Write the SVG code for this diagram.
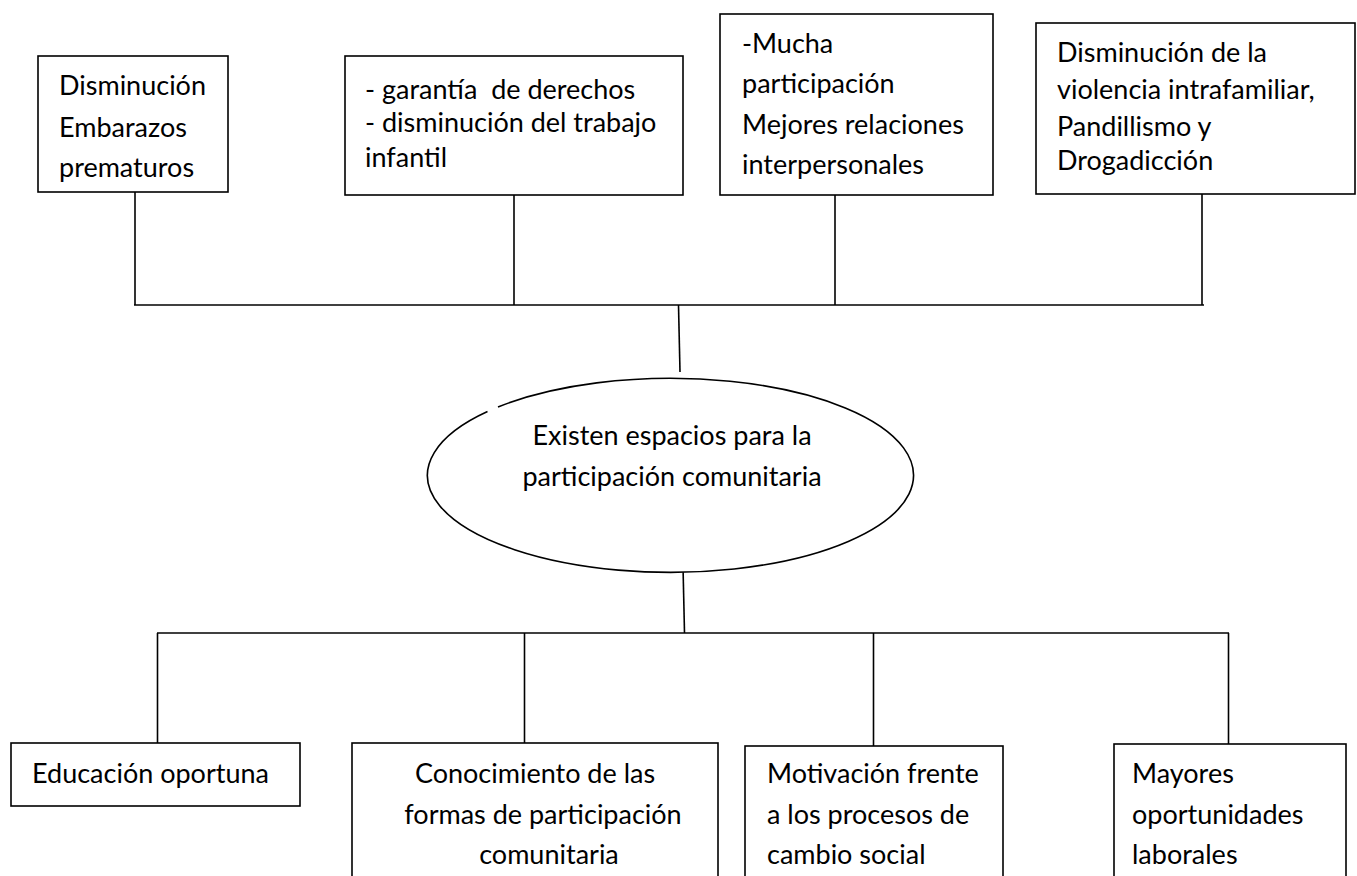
<svg xmlns="http://www.w3.org/2000/svg" width="1357" height="876" viewBox="0 0 1357 876">
<style>
  .box { fill: #ffffff; stroke: #000000; stroke-width: 1.6; }
  .ell { fill: #ffffff; stroke: #000000; stroke-width: 1.6; }
  .ln { fill: none; stroke: #000000; stroke-width: 1.6; }
  text { font-family: Lato, "Open Sans", "Liberation Sans", sans-serif; font-size: 27px; fill: #000000; }
  .mid { text-anchor: middle; }
</style>
<rect x="0" y="0" width="1357" height="876" fill="#ffffff"/>
<g id="connectors">
  <line class="ln" x1="134" y1="305" x2="1204" y2="305"/>
  <line class="ln" x1="135" y1="192" x2="135" y2="305"/>
  <line class="ln" x1="514" y1="195" x2="514" y2="305"/>
  <line class="ln" x1="835" y1="195" x2="835" y2="305"/>
  <line class="ln" x1="1202" y1="194" x2="1202" y2="305"/>
  <line class="ln" x1="678.5" y1="305" x2="680" y2="372"/>
  <line class="ln" x1="683" y1="566" x2="684.5" y2="633"/>
  <line class="ln" x1="157" y1="633" x2="1229" y2="633"/>
  <line class="ln" x1="157.5" y1="633" x2="157.5" y2="743"/>
  <line class="ln" x1="524.5" y1="633" x2="524.5" y2="743"/>
  <line class="ln" x1="873.5" y1="633" x2="873.5" y2="746"/>
  <line class="ln" x1="1228.5" y1="633" x2="1228.5" y2="744"/>
</g>
<g id="node-top1">
  <rect class="box" x="38" y="56" width="190" height="136"/>
  <text x="59" y="95">Disminución</text>
  <text x="59" y="137">Embarazos</text>
  <text x="59" y="177">prematuros</text>
</g>
<g id="node-top2">
  <rect class="box" x="345" y="56" width="338" height="139"/>
  <text x="365" y="99" xml:space="preserve">- garantía  de derechos</text>
  <text x="365" y="132">- disminución del trabajo</text>
  <text x="365" y="167">infantil</text>
</g>
<g id="node-top3">
  <rect class="box" x="720" y="14" width="273" height="181"/>
  <text x="742" y="53">-Mucha</text>
  <text x="742" y="93">participación</text>
  <text x="742" y="134">Mejores relaciones</text>
  <text x="742" y="174">interpersonales</text>
</g>
<g id="node-top4">
  <rect class="box" x="1036" y="23" width="319" height="171"/>
  <text x="1057" y="62">Disminución de la</text>
  <text x="1057" y="99">violencia intrafamiliar,</text>
  <text x="1057" y="136">Pandillismo y</text>
  <text x="1057" y="170">Drogadicción</text>
</g>
<g id="node-center">
  <path class="ell" d="M 498 407 A 243 97 0 1 1 487.5 411.5"/>
  <text class="mid" x="672" y="445">Existen espacios para la</text>
  <text class="mid" x="672" y="486">participación comunitaria</text>
</g>
<g id="node-bottom1">
  <rect class="box" x="11" y="743" width="289" height="63"/>
  <text x="32" y="783">Educación oportuna</text>
</g>
<g id="node-bottom2">
  <rect class="box" x="352" y="743" width="366" height="140"/>
  <text class="mid" x="535" y="783">Conocimiento de las</text>
  <text class="mid" x="543" y="824">formas de participación</text>
  <text class="mid" x="549" y="864">comunitaria</text>
</g>
<g id="node-bottom3">
  <rect class="box" x="745" y="746" width="258" height="140"/>
  <text x="767" y="783">Motivación frente</text>
  <text x="767" y="824">a los procesos de</text>
  <text x="767" y="864">cambio social</text>
</g>
<g id="node-bottom4">
  <rect class="box" x="1114" y="744" width="232" height="140"/>
  <text x="1132" y="783">Mayores</text>
  <text x="1132" y="824">oportunidades</text>
  <text x="1132" y="864">laborales</text>
</g>
</svg>
